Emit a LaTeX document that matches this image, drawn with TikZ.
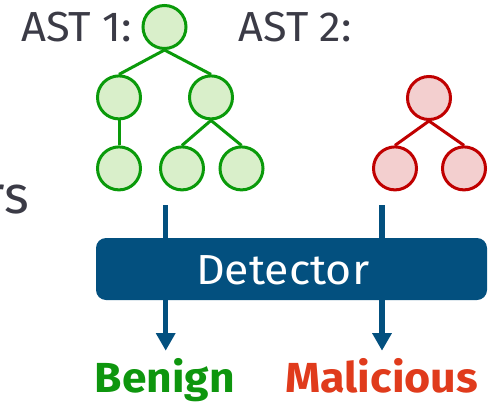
\documentclass[tikz,border=0pt]{standalone}
\usepackage{graphicx}
\usepackage{fontspec}
\setmainfont{Fira Sans}
\usetikzlibrary{arrows.meta,backgrounds}

\definecolor{inkgray}{HTML}{3B3B46}
\definecolor{okline}{HTML}{0A9A0A}
\definecolor{okfill}{HTML}{D9EFCA}
\definecolor{badline}{HTML}{C00000}
\definecolor{badfill}{HTML}{F3CFCF}
\definecolor{detblue}{HTML}{03507F}
\definecolor{oktext}{HTML}{0E960E}
\definecolor{badtext}{HTML}{E03B1C}

% stretch a text horizontally to a given width, keeping its height
\newcommand{\widento}[2]{\resizebox{#1}{\height}{#2}}

\tikzset{
  treenode/.style={circle, minimum size=43pt, inner sep=0pt, line width=3pt},
  goodnode/.style={treenode, draw=okline, fill=okfill},
  badnode/.style={treenode, draw=badline, fill=badfill},
  goodedge/.style={draw=okline, line width=3pt},
  badedge/.style={draw=badline, line width=3pt},
  caption/.style={inner sep=0pt, text=inkgray, font=\fontsize{42}{42}\selectfont},
  verdict/.style={inner sep=0pt, font=\fontsize{42}{42}\selectfont\bfseries},
  detbox/.style={rectangle, rounded corners=10pt, fill=detblue,
    minimum width=391pt, minimum height=62pt, inner sep=0pt},
  flow/.style={draw=detblue, line width=5.5pt,
    -{Triangle[width=18.5pt,length=17.5pt]}},
}

\begin{document}
\begin{tikzpicture}[x=1pt,y=-1pt]
\useasboundingbox (0,0) rectangle (493,402);

% cut-off word on the left edge
\node[inner sep=0pt, anchor=base east, text=inkgray,
  font=\fontsize{53}{53}\selectfont] (tail) at (29.5,213) {rs};

% labels of the two syntax trees
\node[caption, anchor=base west] (ast1) at (21,41.7) {\widento{111pt}{AST 1:}};
\node[caption, anchor=base west] (ast2) at (238.5,41.7) {\widento{113pt}{AST 2:}};

% benign tree
\node[goodnode] (g0) at (164.5,27) {};
\node[goodnode] (g1) at (119,97.4) {};
\node[goodnode] (g2) at (211,97.4) {};
\node[goodnode] (g3) at (119,168.4) {};
\node[goodnode] (g4) at (182,168.4) {};
\node[goodnode] (g5) at (241.5,168.4) {};
\draw[goodedge] (g0.south) -- (g1.north);
\draw[goodedge] (g0.south) -- (g2.north);
\draw[goodedge] (g1.south) -- (g3.north);
\draw[goodedge] (g2.south) -- (g4.north);
\draw[goodedge] (g2.south) -- (g5.north);

% malicious tree
\node[badnode] (r0) at (429,98) {};
\node[badnode] (r1) at (395,168.4) {};
\node[badnode] (r2) at (464,168.4) {};
\draw[badedge] (r0.south) -- (r1.north);
\draw[badedge] (r0.south) -- (r2.north);

% detector
\node[detbox] (det) at (291.5,269) {};
\node[inner sep=0pt, anchor=base west, text=white,
  font=\fontsize{42}{42}\selectfont] (dettxt) at (196,284.3) {\widento{173pt}{Detector}};

% verdicts
\node[verdict, text=oktext, anchor=base west] (benign) at (94.5,392.7) {\widento{140pt}{Benign}};
\node[verdict, text=badtext, anchor=base west] (malicious) at (285,392.7) {\widento{193pt}{Malicious}};

% flows through the detector
\coordinate (in1) at (165.7,205);
\coordinate (in2) at (382,205);
\coordinate (out1) at (165.7,350.7);
\coordinate (out2) at (382,350.7);
\begin{scope}[on background layer]
  \draw[flow] (in1) -- (out1);
  \draw[flow] (in2) -- (out2);
\end{scope}
\end{tikzpicture}
\end{document}
